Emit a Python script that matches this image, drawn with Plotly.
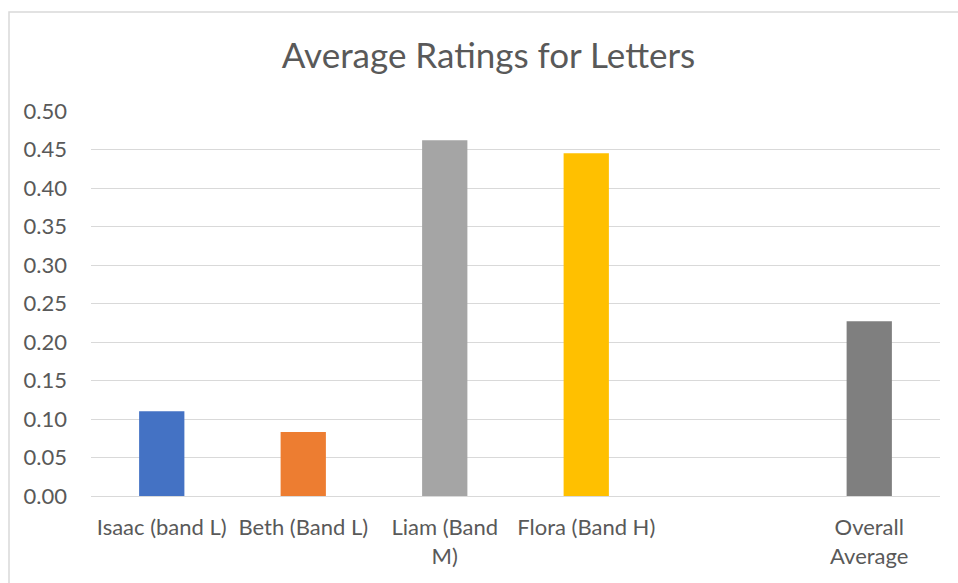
import plotly.graph_objects as go

# Average rating per letter writer, plus the overall average
categories = ["Isaac (band L)", "Beth (Band L)", "Liam (Band<br>M)", "Flora (Band H)", " ", "Overall<br>Average"]
ratings = [0.110, 0.083, 0.462, 0.445, None, 0.227]
bar_colors = ["#4472C4", "#ED7D31", "#A5A5A5", "#FFC000", "#FFFFFF", "#7F7F7F"]
y_ticks = [0.00, 0.05, 0.10, 0.15, 0.20, 0.25, 0.30, 0.35, 0.40, 0.45, 0.50]

W, H = 958, 583
L, R, T, B = 91, 18, 111, 87
plot_w = W - L - R
plot_h = H - T - B

fig = go.Figure(
    go.Bar(
        x=categories,
        y=ratings,
        marker=dict(color=bar_colors, line=dict(width=0)),
        hoverinfo="x+y",
    )
)

text_color = "#595959"
grid_color = "#D9D9D9"
family = "Lato, Open Sans, sans-serif"

fig.update_layout(
    width=W,
    height=H,
    margin=dict(l=L, r=R, t=T, b=B, pad=0),
    paper_bgcolor="white",
    plot_bgcolor="white",
    showlegend=False,
    bargap=0.68,
    font=dict(family=family, color=text_color, size=22),
    title=dict(
        text="Average Ratings for Letters",
        font=dict(family=family, size=35, color=text_color),
        x=488.5 / W,
        xanchor="center",
        y=1 - 56 / H,
        yanchor="middle",
    ),
    xaxis=dict(
        type="category",
        showgrid=False,
        showline=True,
        linecolor=grid_color,
        linewidth=1,
        ticks="",
        ticklabelstandoff=12,
        tickfont=dict(family=family, size=22, color=text_color),
        fixedrange=True,
    ),
    yaxis=dict(
        range=[0, 0.5],
        tickvals=y_ticks,
        tickformat=".2f",
        showgrid=True,
        gridcolor=grid_color,
        gridwidth=1,
        zeroline=False,
        showline=False,
        ticks="",
        ticklabelstandoff=23,
        tickfont=dict(family=family, size=22, color=text_color),
        fixedrange=True,
    ),
)

# Chart-area border (top and left edges visible, rest runs off the page)
fig.add_shape(
    type="rect",
    xref="paper",
    yref="paper",
    x0=(9 - L) / plot_w,
    x1=(W + 20 - L) / plot_w,
    y0=(H - B - (H + 20)) / plot_h,
    y1=(H - B - 12) / plot_h,
    line=dict(color=grid_color, width=1.5),
    fillcolor="rgba(0,0,0,0)",
    layer="below",
)

fig.write_html("out.html")
